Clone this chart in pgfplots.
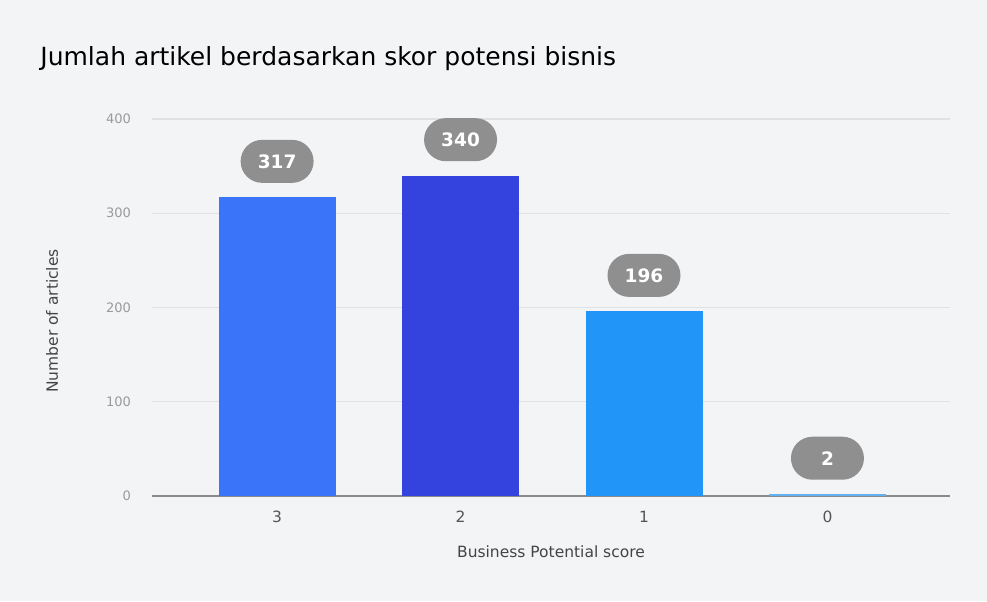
\documentclass[border=0pt]{standalone}
\usepackage{fontspec}
\setmainfont{DejaVu Sans}
\usepackage{pgfplots}
\pgfplotsset{compat=1.18}
\definecolor{bg}{HTML}{F3F4F6}
\definecolor{gridc}{HTML}{DFE1E5}
\definecolor{axc}{HTML}{8A8A8A}
\definecolor{pill}{HTML}{8F8F8F}
\definecolor{cA}{HTML}{3A74F8}
\definecolor{cB}{HTML}{3442DE}
\definecolor{cC}{HTML}{2196F8}
\definecolor{cD}{HTML}{64B0F0}
\definecolor{ytl}{HTML}{9A9A9A}
\definecolor{xtl}{HTML}{555555}
\definecolor{lab}{HTML}{444444}
\begin{document}
\begin{tikzpicture}
\fill[bg] (0,0) rectangle (493.5pt,-300.5pt);
\begin{axis}[
  at={(76pt,-248pt)}, anchor=south west,
  scale only axis, width=399pt, height=188.5pt,
  xmin=-0.682, xmax=3.668, ymin=0, ymax=400,
  ytick={0,100,200,300,400},
  xtick={0,1,2,3}, xticklabels={3,2,1,0},
  ybar, bar width=58.5pt, bar shift=0pt,
  axis x line*=bottom, axis y line*=left,
  y axis line style={draw=none},
  x axis line style={draw=axc, line width=0.6pt, -},
  major tick length=0pt,
  ymajorgrids, grid style={draw=gridc, line width=0.6pt},
  /pgf/number format/assume math mode=true,
  yticklabel style={font=\fontsize{6.5}{8}\selectfont, text=ytl, anchor=east, xshift=-7pt},
  xticklabel style={font=\fontsize{7.75}{9}\selectfont, text=xtl, yshift=-4pt},
  nodes near coords,
  point meta=y,
  nodes near coords style={anchor=south, yshift=7pt, fill=pill, text=white,
     font=\bfseries\fontsize{9.25}{10}\selectfont, rounded corners=10.75pt,
     minimum width=36.5pt, minimum height=21.5pt, inner sep=0pt},
  clip=false,
]
\addplot[fill=cA, draw=none] coordinates {(0,317)};
\addplot[fill=cB, draw=none] coordinates {(1,340)};
\addplot[fill=cC, draw=none] coordinates {(2,196)};
\addplot[fill=cD, draw=none] coordinates {(3,2)};
\end{axis}
\node[anchor=base west, inner sep=0pt, font=\fontsize{12.5}{14}\selectfont, text=black] at (20pt,-32.5pt) {Jumlah artikel berdasarkan skor potensi bisnis};
\node[rotate=90, font=\fontsize{7.75}{9}\selectfont, text=lab] at (26pt,-160.5pt) {Number of articles};
\node[font=\fontsize{7.75}{9}\selectfont, text=lab] at (275.5pt,-276pt) {Business Potential score};
\end{tikzpicture}
\end{document}
